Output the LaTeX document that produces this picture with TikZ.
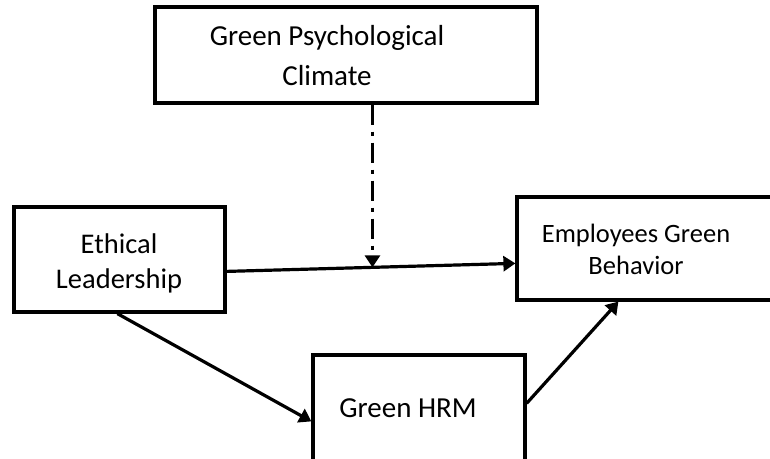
\documentclass[tikz,border=0pt]{standalone}
\usepackage{fontspec}
\setmainfont{Carlito}
\usetikzlibrary{arrows.meta, calc}

\tikzset{
  box/.style={draw, line width=3.2pt, rectangle, inner sep=0pt},
  lbl/.style={align=center, inner sep=0pt, font=\fontsize{29}{40}\selectfont},
  path/.style={line width=3.2pt, -{Triangle[length=12pt,width=15pt]}}
}

\begin{document}
\begin{tikzpicture}[x=1pt, y=-1pt]
\useasboundingbox (0,0) rectangle (770,458);

% boxes
\node[box, minimum width=382pt, minimum height=96pt] (gpcbox) at (346,55) {};
\node[box, minimum width=211pt, minimum height=105pt] (elbox) at (119.5,259.5) {};
\node[box, minimum width=255pt, minimum height=103pt] (egbbox) at (644.5,248.5) {};
\node[box, minimum width=212pt, minimum height=115pt] (hrmbox) at (419,412.5) {};

% texts
\node[lbl] (gpc) at (327,56) {Green Psychological\\Climate};
\node[lbl, font=\fontsize{28.5}{35}\selectfont] (el) at (119,263) {Ethical\\Leadership};
\node[lbl, font=\fontsize{26.5}{32}\selectfont] (egb) at (636,249) {Employees Green\\Behavior};
\node[lbl] (hrm) at (408,408) {Green HRM};

% paths
\coordinate (elout) at ($(elbox.north east)!0.61!(elbox.south east)$);
\coordinate (egbin) at ($(egbbox.north west)!0.64!(egbbox.south west)$);
\draw[path] (elout) -- (egbin);
\coordinate (mod) at ($(elout)!0.505!(egbin)$);
\draw[path, dash pattern=on 20pt off 7pt on 4pt off 7pt] (gpcbox.south -| mod) -- (mod);

\draw[path] ($(elbox.south west)!0.49!(elbox.south east)$) -- ([yshift=-68pt]hrmbox.north west);
\draw[path] ([yshift=-50pt]hrmbox.north east) -- ([xshift=103pt]egbbox.south west);
\end{tikzpicture}
\end{document}
